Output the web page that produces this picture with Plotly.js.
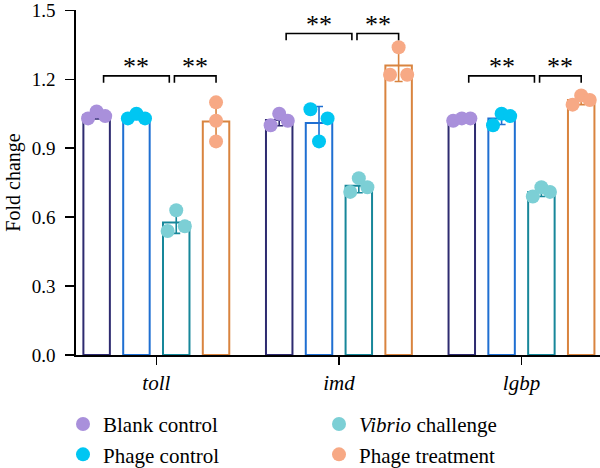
<!DOCTYPE html>
<html>
<head>
<meta charset="utf-8">
<script src="https://cdn.plot.ly/plotly-3.0.1.min.js"></script>
<style>html,body{margin:0;padding:0;background:#fff}#chart{width:600px;height:468px}</style>
</head>
<body>
<div id="chart"></div>
<script>
// ---- data ----
const genes = ['toll', 'imd', 'lgbp'];
const groupNames = ['Blank control', 'Phage control', '<i>Vibrio</i> challenge', 'Phage treatment'];
// replicate values per gene (toll, imd, lgbp)
const blankControl   = [[1.03, 1.06, 1.04], [1.00, 1.05, 1.02], [1.02, 1.03, 1.03]];
const phageControl   = [[1.03, 1.05, 1.03], [1.07, 1.03, 0.93], [1.00, 1.05, 1.04]];
const vibrioChallenge= [[0.63, 0.54, 0.56], [0.71, 0.77, 0.73], [0.69, 0.73, 0.71]];
const phageTreatment = [[1.10, 1.02, 0.93], [1.34, 1.22, 1.22], [1.09, 1.13, 1.11]];
const yTicks = [0, 0.3, 0.6, 0.9, 1.2, 1.5];
const sigPairs  = [[0, 2], [2, 3]];
const sigLabel  = '**';
const bracketLevel = [1.215, 1.40, 1.215];

// ---- styles ----
const series = [blankControl, phageControl, vibrioChallenge, phageTreatment];
const lineColors  = ['#2e2b70', '#1f6fd2', '#17879a', '#d9843f'];
const pointColors = ['#a990db', '#00c6f2', '#7ccfd5', '#f7a985'];
const legendOrder = [1, 3, 2, 4];
const slot = 0.218, barW = 0.145, jit = 0.047, overlap = 0.06;
const FONT = 'Liberation Serif, Times New Roman, serif';

function mean(a){return a.reduce((s,v)=>s+v,0)/a.length;}
function sd(a){const m=mean(a);return Math.sqrt(a.reduce((s,v)=>s+(v-m)*(v-m),0)/(a.length-1));}
function barX(gi, si){return gi + (si - 1.5) * slot;}
// spread overlapping points horizontally (connected clusters)
function jitter(vals){
  const n = vals.length, comp = vals.map((_, i) => i);
  const find = i => comp[i] === i ? i : (comp[i] = find(comp[i]));
  for (let i = 0; i < n; i++) for (let k = i + 1; k < n; k++)
    if (Math.abs(vals[i] - vals[k]) < overlap) comp[find(i)] = find(k);
  const groups = {};
  vals.forEach((_, i) => { const r = find(i); (groups[r] = groups[r] || []).push(i); });
  const off = new Array(n).fill(0);
  Object.values(groups).forEach(g => {
    if (g.length === 1) return;
    g.forEach((idx, j) => { off[idx] = (j - (g.length - 1) / 2) * (2 / (g.length - 1)); });
  });
  return off;
}

const traces = [];
series.forEach((data, si) => {
  traces.push({
    type: 'bar', x: genes.map((_, gi) => barX(gi, si)), y: data.map(mean),
    width: genes.map(() => barW), showlegend: false, hoverinfo: 'skip',
    marker: {color: 'rgba(255,255,255,0)', line: {color: lineColors[si], width: 2}},
    error_y: {type: 'data', array: data.map(sd), color: lineColors[si], thickness: 1.6, width: 4}
  });
});
series.forEach((data, si) => {
  const xs = [], ys = [];
  data.forEach((vals, gi) => {
    const off = jitter(vals);
    vals.forEach((v, k) => { xs.push(barX(gi, si) + off[k] * jit); ys.push(v); });
  });
  traces.push({
    type: 'scatter', mode: 'markers', x: xs, y: ys, name: groupNames[si],
    legendrank: legendOrder[si], cliponaxis: false,
    marker: {color: pointColors[si], size: 14, line: {width: 0}}
  });
});

const shapes = [{type: 'line', xref: 'paper', yref: 'y', x0: -0.018, x1: 0, y0: 0, y1: 0,
                 line: {color: '#000', width: 1.6}}];
const annotations = [];
genes.forEach((g, gi) => {
  const lv = bracketLevel[gi], leg = 0.03;
  sigPairs.forEach((p, pi) => {
    let xa = barX(gi, p[0]), xb = barX(gi, p[1]);
    if (pi === 0) { xa += 0.038; xb -= 0.038; } else { xa -= 0.01; }
    shapes.push({type: 'path', xref: 'x', yref: 'y',
      path: `M${xa},${lv - leg} L${xa},${lv} L${xb},${lv} L${xb},${lv - leg}`,
      line: {color: '#000', width: 1.6}});
    annotations.push({x: (xa + xb) / 2, y: lv - 0.032, xref: 'x', yref: 'y', text: sigLabel,
      showarrow: false, yanchor: 'bottom', font: {family: FONT, size: 26, color: '#000'}});
  });
});

const layout = {
  width: 600, height: 468,
  margin: {l: 76, r: 0, t: 10, b: 113},
  paper_bgcolor: '#fff', plot_bgcolor: '#fff',
  font: {family: FONT, color: '#000'},
  barmode: 'overlay',
  xaxis: {range: [-0.44, 2.43], tickvals: genes.map((_, i) => i),
    ticktext: genes.map(g => '<i>' + g + '</i>'), showline: true, linecolor: '#000', linewidth: 1.6,
    ticks: 'outside', ticklen: 8, tickwidth: 1.6, tickcolor: '#000', showgrid: false, zeroline: false,
    ticklabelstandoff: 0, tickfont: {family: FONT, size: 21}},
  yaxis: {range: [0, 1.502], tickvals: yTicks, ticktext: yTicks.map(v => v.toFixed(1)),
    showline: true, linecolor: '#000', linewidth: 1.6, ticklabeloverflow: 'allow',
    ticks: 'outside', ticklen: 9, tickwidth: 1.6, tickcolor: '#000', showgrid: false, zeroline: false,
    ticklabelstandoff: 6, tickfont: {family: FONT, size: 19},
    title: {text: 'Fold change', font: {family: FONT, size: 20}, standoff: 6}},
  showlegend: true,
  legend: {orientation: 'h', xref: 'container', yref: 'container', x: 0.105, xanchor: 'left',
    y: 0.137, yanchor: 'top',
    entrywidth: 211, entrywidthmode: 'pixels', font: {family: FONT, size: 21}, bgcolor: 'rgba(0,0,0,0)'},
  shapes: shapes, annotations: annotations
};
Plotly.newPlot('chart', traces, layout, {displayModeBar: false, staticPlot: true});
</script>
</body>
</html>
